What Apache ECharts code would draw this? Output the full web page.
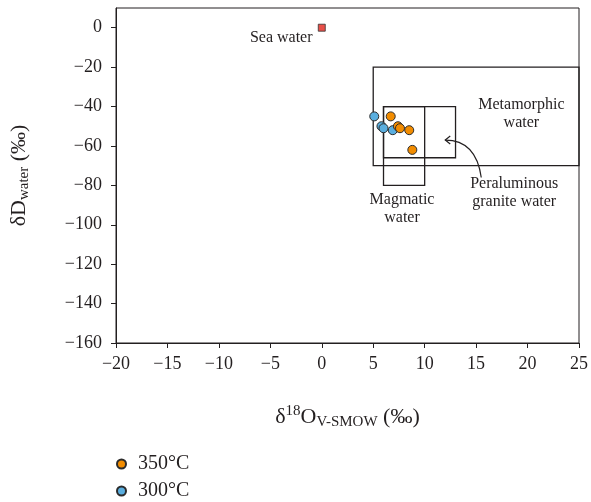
<!DOCTYPE html>
<html>
<head>
<meta charset="utf-8">
<style>
  html, body { margin: 0; padding: 0; background: #fff; }
  #chart { width: 591px; height: 502px; }
</style>
<script src="https://cdn.jsdelivr.net/npm/echarts@6/dist/echarts.min.js"></script>
</head>
<body>
<div id="chart"></div>
<script>
// Isotope samples: [δ18O, δD] in ‰
const samples350 = [[6.7, -45], [7.4, -50], [7.6, -51], [8.5, -52], [8.8, -62]];
const samples300 = [[5.1, -45], [5.8, -50], [6.0, -51], [6.9, -52]];
const seaWater = [[0, 0]];

// Reference fields: [[xMin, yMax], [xMax, yMin]]
const metamorphicField = [[5, -20], [25, -70]];
const magmaticField = [[6, -40], [10, -80]];
const peraluminousField = [[6, -40], [13, -66]];

// Field captions: [x, y, text, align]
const fieldLabels = [
  [19.4, -43.5, 'Metamorphic\nwater', 'center'],
  [7.8, -92, 'Magmatic\nwater', 'center'],
  [18.7, -84, 'Peraluminous\ngranite water', 'center'],
  [-0.9, -5.2, 'Sea water', 'right']
];

// Curved pointer from the peraluminous caption to its field: start, control, end
const pointer = [[15.5, -76], [15.0, -57], [12.0, -57]];

const xTicks = [-20, -15, -10, -5, 0, 5, 10, 15, 20, 25];
const yTicks = [-160, -140, -120, -100, -80, -60, -40, -20, 0];

const serif = 'Liberation Serif';
const ink = '#231f20';
const fmt = v => String(v).replace('-', '\u2212');

const chart = echarts.init(document.getElementById('chart'));
chart.setOption({
  animation: false,
  textStyle: { fontFamily: serif, color: ink },
  grid: {
    left: 116, right: 10, top: 8, bottom: 159,
    show: true, borderColor: ink, borderWidth: 1
  },
  legend: {
    orient: 'vertical',
    left: 116, top: 454, padding: 0,
    itemWidth: 9, itemHeight: 9, itemGap: 7,
    textStyle: { fontFamily: serif, fontSize: 20, color: ink, padding: [0, 0, 0, 7] },
    data: [
      { name: '350°C', icon: 'circle' },
      { name: '300°C', icon: 'circle' }
    ]
  },
  xAxis: {
    type: 'value', min: -20, max: 25, interval: 5,
    splitLine: { show: false },
    axisLine: { onZero: false, lineStyle: { color: ink, width: 1 } },
    axisTick: { length: 5, lineStyle: { color: ink }, customValues: xTicks },
    axisLabel: {
      margin: 12, fontFamily: serif, fontSize: 18, color: ink,
      customValues: xTicks, formatter: fmt
    },
    name: '{t|δ}{sup|18}{t|O}{sub|V-SMOW}{t| (‰)}',
    nameLocation: 'middle', nameGap: 61,
    nameTextStyle: {
      rich: {
        t: { fontFamily: serif, fontSize: 22, color: ink, lineHeight: 26 },
        sup: { fontFamily: serif, fontSize: 15, color: ink, verticalAlign: 'top', lineHeight: 26, padding: [0, 0, 8, 0] },
        sub: { fontFamily: serif, fontSize: 15, color: ink, verticalAlign: 'bottom', lineHeight: 26, padding: [8, 0, 0, 0] }
      }
    }
  },
  yAxis: {
    type: 'value', min: -160, max: 10, interval: 20,
    splitLine: { show: false },
    axisLine: { onZero: false, lineStyle: { color: ink, width: 1 } },
    axisTick: { length: 5, lineStyle: { color: ink }, customValues: yTicks },
    axisLabel: {
      margin: 14, fontFamily: serif, fontSize: 18, color: ink,
      customValues: yTicks, formatter: fmt
    },
    name: '{t|δD}{sub|water}{t| (‰)}',
    nameLocation: 'middle', nameGap: 84,
    nameTextStyle: {
      rich: {
        t: { fontFamily: serif, fontSize: 22, color: ink, lineHeight: 26 },
        sub: { fontFamily: serif, fontSize: 15, color: ink, verticalAlign: 'bottom', lineHeight: 26, padding: [8, 0, 0, 0] }
      }
    }
  },
  series: [
    {
      name: 'fields',
      type: 'scatter',
      data: [],
      silent: true,
      markArea: {
        silent: true,
        itemStyle: { color: 'rgba(0,0,0,0)', borderColor: ink, borderWidth: 1.3 },
        label: { show: false },
        data: [
          [{ coord: metamorphicField[0] }, { coord: metamorphicField[1] }],
          [{ coord: peraluminousField[0] }, { coord: peraluminousField[1] }],
          [{ coord: magmaticField[0] }, { coord: magmaticField[1] }]
        ]
      },
      markPoint: {
        silent: true,
        symbol: 'circle', symbolSize: 0,
        data: fieldLabels.map(l => ({
          coord: [l[0], l[1]],
          label: {
            show: true, position: 'inside', formatter: l[2], align: l[3],
            fontFamily: serif, fontSize: 16, color: ink, lineHeight: 18
          }
        }))
      }
    },
    {
      name: 'Sea water',
      type: 'scatter',
      symbol: 'rect', symbolSize: 7,
      itemStyle: { color: '#e2231a', borderColor: '#333', borderWidth: 1 },
      data: seaWater
    },
    {
      name: '300°C',
      type: 'scatter',
      symbolSize: 9,
      itemStyle: { color: '#5aaedf', borderColor: '#2b2b2b', borderWidth: 1, opacity: 1 },
      data: samples300
    },
    {
      name: '350°C',
      type: 'scatter',
      symbolSize: 9,
      itemStyle: { color: '#f28c00', borderColor: '#2b2b2b', borderWidth: 1, opacity: 1 },
      data: samples350
    }
  ]
});

// Draw the curved pointer in pixel space from its data coordinates
const px = pointer.map(p => chart.convertToPixel({ gridIndex: 0 }, p));
const [p0, pc, p1] = px;
chart.setOption({
  graphic: [
    {
      type: 'bezierCurve', silent: true,
      shape: { x1: p0[0], y1: p0[1], cpx1: pc[0], cpy1: pc[1], x2: p1[0], y2: p1[1] },
      style: { stroke: ink, lineWidth: 1.2, fill: null }
    },
    {
      type: 'polyline', silent: true,
      shape: { points: [[p1[0] + 5, p1[1] - 4], [p1[0], p1[1]], [p1[0] + 5, p1[1] + 4]] },
      style: { stroke: ink, lineWidth: 1.2, fill: null }
    }
  ]
});
</script>
</body>
</html>
